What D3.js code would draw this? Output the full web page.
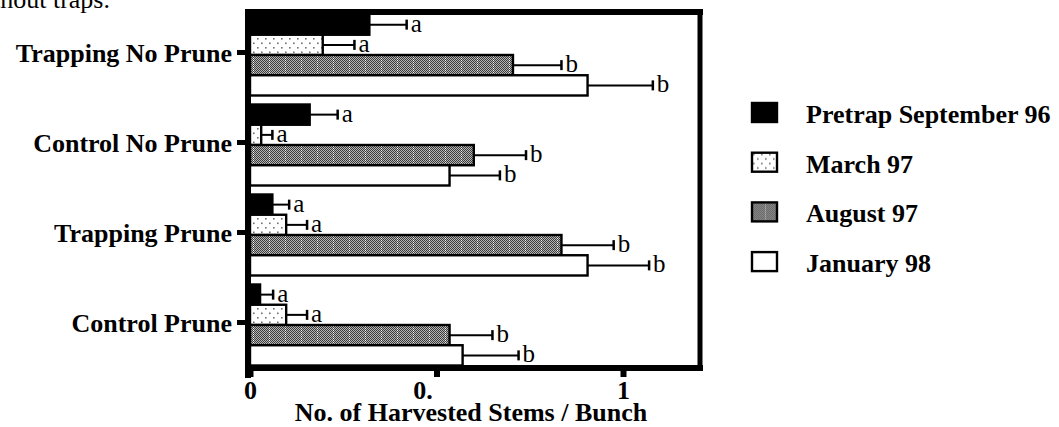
<!DOCTYPE html>
<html>
<head>
<meta charset="utf-8">
<script src="https://cdn.jsdelivr.net/npm/d3@7"></script>
<style>
  html, body { margin: 0; padding: 0; background: #fff; }
  svg { display: block; }
  text { font-family: "Liberation Serif", "Times New Roman", serif; fill: #000; }
</style>
</head>
<body>
<svg id="chart" width="1059" height="427"></svg>
<script>
// Treatments (one group of bars each, top to bottom)
const categories = ["Trapping No Prune", "Control No Prune", "Trapping Prune", "Control Prune"];

// Sampling dates (one bar per date inside each group)
const seriesNames = ["Pretrap September 96", "March 97", "August 97", "January 98"];

// Mean harvested stems per bunch, per date, in treatment order
const pretrapSep96 = [0.32, 0.16, 0.06, 0.027];
const march97      = [0.195, 0.03, 0.097, 0.097];
const august97     = [0.705, 0.60, 0.835, 0.535];
const january98    = [0.905, 0.535, 0.905, 0.57];

// Standard errors
const pretrapSep96Err = [0.10, 0.075, 0.045, 0.035];
const march97Err      = [0.085, 0.03, 0.056, 0.056];
const august97Err     = [0.13, 0.14, 0.14, 0.115];
const january98Err    = [0.175, 0.135, 0.165, 0.15];

// Mean separation letters
const pretrapSep96Letters = ["a", "a", "a", "a"];
const march97Letters      = ["a", "a", "a", "a"];
const august97Letters     = ["b", "b", "b", "b"];
const january98Letters    = ["b", "b", "b", "b"];

// X axis ticks
const xTickValues = [0, 0.5, 1];
const xTickLabels = ["0", "0.", "1"];
const xMax = 1.2;

const seriesMeans   = [pretrapSep96, march97, august97, january98];
const seriesErrs    = [pretrapSep96Err, march97Err, august97Err, january98Err];
const seriesLetters = [pretrapSep96Letters, march97Letters, august97Letters, january98Letters];

const svg = d3.select("#chart");

// ---- fill patterns ----
const defs = svg.append("defs");

const dots = defs.append("pattern")
  .attr("id", "dots").attr("patternUnits", "userSpaceOnUse")
  .attr("width", 8).attr("height", 9);
dots.append("rect").attr("width", 8).attr("height", 9).attr("fill", "#fff");
dots.append("rect").attr("x", 1).attr("y", 1).attr("width", 1.6).attr("height", 1.6).attr("fill", "#707070");
dots.append("rect").attr("x", 5).attr("y", 5.5).attr("width", 1.6).attr("height", 1.6).attr("fill", "#707070");

const checker = defs.append("pattern")
  .attr("id", "checker").attr("patternUnits", "userSpaceOnUse")
  .attr("width", 16).attr("height", 2);
checker.append("rect").attr("width", 16).attr("height", 2).attr("fill", "#b4b4b4");
for (let i = 0; i < 16; i++) {
  checker.append("rect").attr("x", i).attr("y", i % 2).attr("width", 1).attr("height", 1).attr("fill", "#3c3c3c");
}
checker.append("rect").attr("x", 13).attr("y", 0).attr("width", 1).attr("height", 1).attr("fill", "#f4f4f4");

const fills = ["#000", "url(#dots)", "url(#checker)", "#fff"];

// ---- scales ----
const x = d3.scaleLinear().domain([0, xMax]).range([250, 697.6]);
const y0 = d3.scaleBand().domain(categories).range([10, 370]).paddingInner(0).paddingOuter(0);
const y1 = d3.scaleBand().domain(seriesNames).range([4.5, 85.5]).paddingInner(0);

// ---- bars ----
const groups = svg.append("g").selectAll("g")
  .data(categories)
  .join("g")
  .attr("transform", d => `translate(0,${y0(d)})`);

groups.each(function (cat, ci) {
  const g = d3.select(this);
  seriesNames.forEach((s, si) => {
    const v = seriesMeans[si][ci];
    const e = seriesErrs[si][ci];
    const by = y1(s);
    const bh = y1.bandwidth();
    const cy = by + bh / 2;

    g.append("rect")
      .attr("x", x(0))
      .attr("y", by)
      .attr("width", x(v) - x(0))
      .attr("height", bh)
      .attr("fill", fills[si])
      .attr("stroke", "#000")
      .attr("stroke-width", 2.4);

    // error bar
    g.append("line")
      .attr("x1", x(v)).attr("x2", x(v + e))
      .attr("y1", cy).attr("y2", cy)
      .attr("stroke", "#000").attr("stroke-width", 2);
    g.append("line")
      .attr("x1", x(v + e)).attr("x2", x(v + e))
      .attr("y1", cy - 5).attr("y2", cy + 5)
      .attr("stroke", "#000").attr("stroke-width", 2.5);

    g.append("text")
      .attr("x", x(v + e) + 4)
      .attr("y", cy + 7)
      .attr("font-size", 25)
      .text(seriesLetters[si][ci]);
  });
});

// ---- frame ----
const frame = svg.append("g").attr("fill", "none").attr("stroke", "#000");
frame.append("line").attr("x1", 245).attr("x2", 703).attr("y1", 12).attr("y2", 12).attr("stroke-width", 6);
frame.append("line").attr("x1", 700).attr("x2", 700).attr("y1", 9).attr("y2", 371).attr("stroke-width", 5);
frame.append("line").attr("x1", 248).attr("x2", 248).attr("y1", 9).attr("y2", 378).attr("stroke-width", 6);
frame.append("line").attr("x1", 245).attr("x2", 703).attr("y1", 368).attr("y2", 368).attr("stroke-width", 6);

// ---- x axis ----
const xAxis = d3.axisBottom(x)
  .tickValues(xTickValues)
  .tickSize(9)
  .tickPadding(17)
  .tickFormat((d, i) => xTickLabels[i]);

const xg = svg.append("g").attr("transform", "translate(0,368)").call(xAxis);
xg.select(".domain").remove();
xg.selectAll(".tick line").attr("stroke", "#000").attr("stroke-width", 6);
xg.selectAll(".tick text")
  .attr("font-family", "Liberation Serif, Times New Roman, serif")
  .attr("font-size", 26)
  .attr("font-weight", "bold")
  .attr("fill", "#000")
  .attr("dy", "0.2em")
  .attr("dx", (d, i) => (i === 1 ? -14 : 0));

svg.append("text")
  .attr("x", 471)
  .attr("y", 421)
  .attr("text-anchor", "middle")
  .attr("font-size", 26)
  .attr("font-weight", "bold")
  .text("No. of Harvested Stems / Bunch");

// ---- y axis category ticks and labels ----
const yg = svg.append("g");
yg.selectAll("line")
  .data(categories)
  .join("line")
  .attr("x1", 237).attr("x2", 246)
  .attr("y1", d => y0(d) + 42.5).attr("y2", d => y0(d) + 42.5)
  .attr("stroke", "#000").attr("stroke-width", 5);

yg.selectAll("text")
  .data(categories)
  .join("text")
  .attr("x", 232)
  .attr("y", d => y0(d) + 52)
  .attr("text-anchor", "end")
  .attr("font-size", 26)
  .attr("font-weight", "bold")
  .text(d => d);

// ---- legend ----
const legend = svg.append("g").selectAll("g")
  .data(seriesNames)
  .join("g")
  .attr("transform", (d, i) => `translate(752,${103 + i * 49.7})`);

legend.append("rect")
  .attr("width", 25).attr("height", 19)
  .attr("fill", (d, i) => fills[i])
  .attr("stroke", "#000").attr("stroke-width", 2.4);

legend.append("text")
  .attr("x", 54)
  .attr("y", 20)
  .attr("font-size", 26)
  .attr("font-weight", "bold")
  .text(d => d);

// ---- caption fragment at top left ----
svg.append("text")
  .attr("x", 110)
  .attr("y", 8)
  .attr("text-anchor", "end")
  .attr("font-size", 26)
  .text("without traps.");
</script>
</body>
</html>
